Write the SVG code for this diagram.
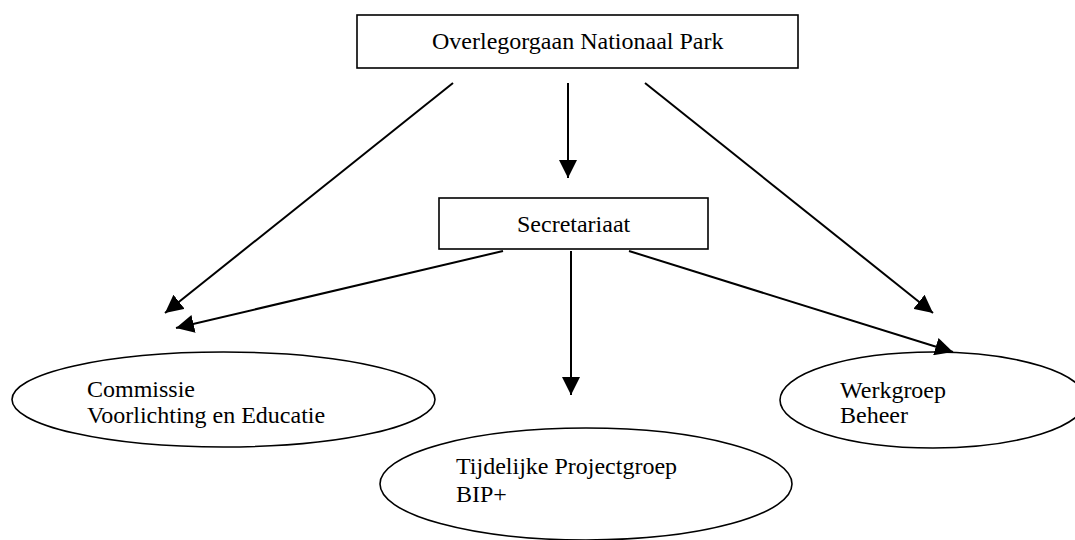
<svg xmlns="http://www.w3.org/2000/svg" width="1075" height="540" viewBox="0 0 1075 540">
<style>
.box{fill:#fff;stroke:#000;stroke-width:1.6}
.ell{fill:#fff;stroke:#000;stroke-width:1.6}
.lbl{font-family:"Liberation Serif","Times New Roman",serif;font-size:24px;fill:#000}
.con{stroke:#000;stroke-width:2;fill:none;marker-end:url(#ah)}
</style>
<defs>
<marker id="ah" markerUnits="userSpaceOnUse" markerWidth="18" markerHeight="18" viewBox="0 0 16 16" refX="16" refY="8" orient="auto">
<path d="M0,0 L16,8 L0,16 Z" fill="#000"/>
</marker>
</defs>
<g id="n-overleg">
<rect class="box" x="357" y="15" width="441" height="53"/>
<text class="lbl" x="432" y="49">Overlegorgaan Nationaal Park</text>
</g>
<g id="n-secretariaat">
<rect class="box" x="439" y="198" width="269" height="51"/>
<text class="lbl" x="517" y="232">Secretariaat</text>
</g>
<g id="n-commissie">
<ellipse class="ell" cx="223.5" cy="399.5" rx="211.5" ry="47.5"/>
<text class="lbl" x="87" y="397">Commissie</text>
<text class="lbl" x="87" y="423">Voorlichting en Educatie</text>
</g>
<g id="n-tijdelijke">
<ellipse class="ell" cx="586" cy="484" rx="206" ry="56"/>
<text class="lbl" x="456" y="474">Tijdelijke Projectgroep</text>
<text class="lbl" x="456" y="502">BIP+</text>
</g>
<g id="n-werkgroep">
<ellipse class="ell" cx="933" cy="400" rx="153" ry="48"/>
<text class="lbl" x="840" y="398">Werkgroep</text>
<text class="lbl" x="840" y="423">Beheer</text>
</g>
<g id="connectors">
<line class="con" x1="453" y1="83" x2="165" y2="313"/>
<line class="con" x1="568" y1="83" x2="568" y2="178"/>
<line class="con" x1="645" y1="83" x2="933" y2="313"/>
<line class="con" x1="503" y1="251" x2="176" y2="328"/>
<line class="con" x1="571" y1="251" x2="571" y2="395"/>
<line class="con" x1="629" y1="251" x2="953" y2="352"/>
</g>
</svg>
